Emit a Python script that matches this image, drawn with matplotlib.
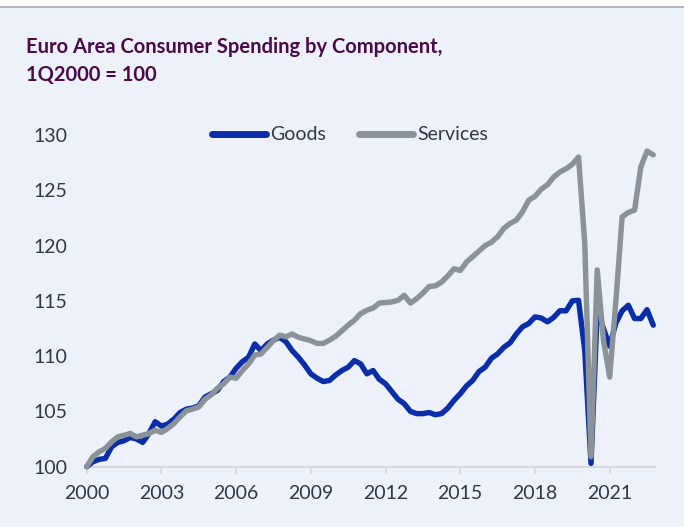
import matplotlib
matplotlib.use("Agg")
import matplotlib.pyplot as plt
from matplotlib.lines import Line2D
from matplotlib.patches import Rectangle
import numpy as np

# Quarterly data 1Q2000 .. 4Q2022 (index, 1Q2000 = 100)
start_year = 2000
goods = [
    100.0, 100.45, 100.66, 100.75, 101.8, 102.2, 102.35, 102.65,
    102.5, 102.2, 103.0, 104.07, 103.67, 103.85, 104.3, 104.9,
    105.2, 105.3, 105.5, 106.3, 106.6, 106.9, 107.7, 108.1,
    108.9, 109.5, 109.9, 111.1, 110.5, 111.1, 111.45, 111.7,
    111.3, 110.5, 109.9, 109.2, 108.4, 108.0, 107.7, 107.8,
    108.3, 108.7, 109.0, 109.6, 109.3, 108.4, 108.7, 107.9,
    107.5, 106.8, 106.1, 105.7, 105.0, 104.8, 104.8, 104.9,
    104.7, 104.8, 105.3, 106.0, 106.6, 107.3, 107.8, 108.6,
    109.0, 109.8, 110.2, 110.8, 111.2, 112.0, 112.65, 112.95,
    113.55, 113.45, 113.1, 113.5, 114.1, 114.1, 115.0, 115.05,
    110.5, 100.3, 114.1, 112.5, 110.9, 113.0, 114.1, 114.6,
    113.4, 113.4, 114.2, 112.8,
]
services = [
    100.0, 100.9, 101.35, 101.65, 102.25, 102.7, 102.85, 103.0,
    102.7, 102.85, 103.0, 103.3, 103.1, 103.45, 103.9, 104.5,
    105.05, 105.2, 105.4, 106.1, 106.5, 107.1, 107.5, 108.1,
    108.0, 108.7, 109.3, 110.1, 110.2, 110.8, 111.4, 111.9,
    111.75, 112.0, 111.7, 111.55, 111.4, 111.15, 111.15, 111.45,
    111.8, 112.3, 112.8, 113.25, 113.85, 114.15, 114.35, 114.8,
    114.85, 114.9, 115.05, 115.5, 114.8, 115.2, 115.7, 116.3,
    116.35, 116.7, 117.25, 117.9, 117.75, 118.5, 119.0, 119.5,
    120.0, 120.3, 120.8, 121.55, 122.0, 122.3, 123.05, 124.1,
    124.45, 125.1, 125.5, 126.2, 126.65, 126.95, 127.35, 128.0,
    120.2, 100.9, 117.8, 111.45, 108.1, 115.0, 122.6, 123.0,
    123.2, 127.1, 128.55, 128.2,
]
xtick_years = [2000, 2003, 2006, 2009, 2012, 2015, 2018, 2021]
ytick_values = [100, 105, 110, 115, 120, 125, 130]
title = "Euro Area Consumer Spending by Component,\n1Q2000 = 100"
series_names = ["Goods", "Services"]

t = start_year + np.arange(len(goods)) / 4.0

BG = "#EDF1F9"
GOODS_C = "#0A2DAA"
SERV_C = "#8A9398"
TXT = "#2C3A48"
TITLE_C = "#4A0A4A"

W, H = 684, 527
fig = plt.figure(figsize=(W / 100, H / 100), dpi=100, facecolor=BG)

# top white strip and grey rule
fig.patches.append(Rectangle((0, 1 - 6 / H), 1, 6 / H, transform=fig.transFigure,
                             facecolor="white", edgecolor="none", zorder=0))
fig.lines.append(Line2D([0, 1], [1 - 7 / H, 1 - 7 / H], transform=fig.transFigure,
                        color="#A8ABAF", lw=1.2))

left = 86.7 / W
right = 655 / W
bottom = 1 - 466.7 / H
top = 1 - 135 / H
ax = fig.add_axes([left, bottom, right - left, top - bottom])
ax.set_facecolor(BG)

ax.plot(t, goods, color=GOODS_C, lw=3.9, solid_capstyle="round",
        solid_joinstyle="round", clip_on=False, label=series_names[0], zorder=3)
ax.plot(t, services, color=SERV_C, lw=3.9, solid_capstyle="round",
        solid_joinstyle="round", clip_on=False, label=series_names[1], zorder=4)

ax.set_xlim(2000, 2022.82)
ax.set_ylim(100, 130)
ax.set_xticks(xtick_years)
ax.set_xticklabels([str(y) for y in xtick_years])
ax.set_yticks(ytick_values)
ax.set_yticklabels([str(v) for v in ytick_values])

for s in ["left", "right", "top"]:
    ax.spines[s].set_visible(False)
ax.spines["bottom"].set_color("#D6D9DD")
ax.spines["bottom"].set_linewidth(1.5)
ax.spines["bottom"].set_zorder(1)

ax.tick_params(axis="x", length=5, width=1.5, color="#D6D9DD", pad=8,
               labelsize=14, labelcolor=TXT)
ax.tick_params(axis="y", length=0, pad=38, labelsize=14, labelcolor=TXT)
for lab in ax.get_yticklabels():
    lab.set_horizontalalignment("left")
    lab.set_fontfamily("Lato")
    lab.set_fontweight("normal")
for lab in ax.get_xticklabels():
    lab.set_fontfamily("Lato")
    lab.set_fontweight("normal")

leg = ax.legend(loc="center", bbox_to_anchor=(0.463, 1.0), ncol=2, frameon=False,
                handlelength=2.8, handletextpad=0.2, columnspacing=1.7,
                prop={"family": "Lato", "weight": "normal", "size": 14})
for txt in leg.get_texts():
    txt.set_color(TXT)
for h in leg.get_lines():
    h.set_linewidth(5)
    h.set_solid_capstyle("round")

fig.text(26 / W, 1 - 37 / H, title, ha="left", va="top", fontsize=14.5,
         fontweight="bold", family="Lato", color=TITLE_C, linespacing=1.5)

fig.savefig("out.png", dpi=100, facecolor=BG)
